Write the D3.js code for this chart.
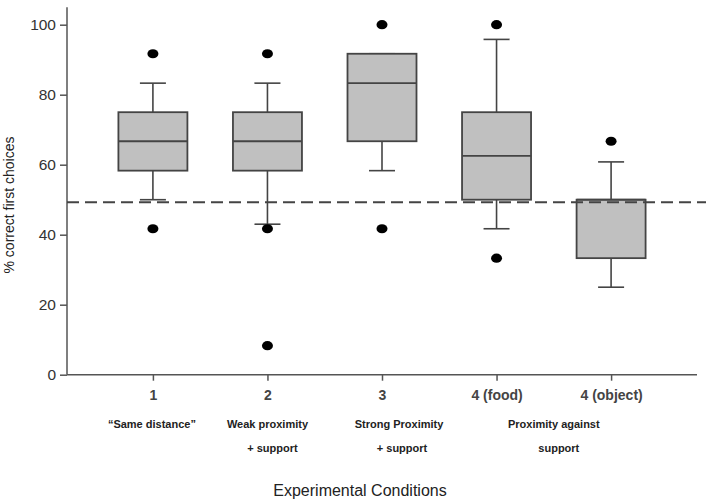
<!DOCTYPE html>
<html><head><meta charset="utf-8">
<script src="https://cdn.jsdelivr.net/npm/d3@7"></script>
<style>body{margin:0;background:#fff}svg{display:block}text{font-family:Arial,"Liberation Sans",sans-serif}</style>
</head><body>
<script>
const categories = ["1","2","3","4 (food)","4 (object)"];
const subLabels = [["\u201cSame distance\u201d"],["Weak proximity","+ support"],["Strong Proximity","+ support"],[],[]];
const groupLabels = [{text:["Proximity against","support"], from:3, to:4}];
const q1 = [58.3, 58.3, 66.7, 50, 33.3];
const median = [66.7, 66.7, 83.3, 62.5, 50];
const q3 = [75, 75, 91.7, 75, 50];
const whiskerLow = [50, 43, 58.3, 41.7, 25];
const whiskerHigh = [83.3, 83.3, 91.7, 95.8, 60.8];
const outliers = [[91.7, 41.7],[91.7, 41.7, 8.3],[100, 41.7],[100, 33.3],[66.7]];
const chanceLevel = 49.3;
const yTicks = [0,20,40,60,80,100];

const W=708,H=503;
const svg=d3.select("body").append("svg").attr("width",W).attr("height",H);
const x=d3.scalePoint().domain(categories).range([67,697]).padding(0.75);
const y=d3.scaleLinear().domain([0,105]).range([374.7,7.2]);
const axisColor="#555", boxStroke="#444";

// y axis
const ya=svg.append("g").attr("transform","translate(67,0)")
  .call(d3.axisLeft(y).tickValues(yTicks).tickSize(7).tickPadding(4));
ya.select(".domain").attr("stroke",axisColor).attr("stroke-width",1.5).attr("d",`M0,${y(0)}V${y(105)}`);
ya.selectAll(".tick line").attr("stroke",axisColor).attr("stroke-width",1.5);
ya.selectAll(".tick text").attr("font-size",15.5).attr("fill","#333");

// x axis
const xa=svg.append("g").attr("transform",`translate(0,${y(0)})`)
  .call(d3.axisBottom(x).tickSize(6).tickPadding(9));
xa.select(".domain").attr("stroke",axisColor).attr("stroke-width",1.5).attr("d","M67,0H697");
xa.selectAll(".tick line").attr("stroke",axisColor).attr("stroke-width",1.5);
xa.selectAll(".tick text").attr("font-size",14).attr("font-weight","bold").attr("fill","#444");

const bw=69, cap=26;
const g=svg.append("g");
categories.forEach((c,i)=>{
  const cx=x(c);
  g.append("line").attr("x1",cx).attr("x2",cx).attr("y1",y(q3[i])).attr("y2",y(whiskerHigh[i])).attr("stroke",boxStroke).attr("stroke-width",1.6);
  g.append("line").attr("x1",cx).attr("x2",cx).attr("y1",y(q1[i])).attr("y2",y(whiskerLow[i])).attr("stroke",boxStroke).attr("stroke-width",1.6);
  [whiskerHigh[i],whiskerLow[i]].forEach(v=>{
    g.append("line").attr("x1",cx-cap/2).attr("x2",cx+cap/2).attr("y1",y(v)).attr("y2",y(v)).attr("stroke",boxStroke).attr("stroke-width",1.6);
  });
  g.append("rect").attr("x",cx-bw/2).attr("width",bw).attr("y",y(q3[i])).attr("height",y(q1[i])-y(q3[i]))
    .attr("fill","#c0c0c0").attr("stroke",boxStroke).attr("stroke-width",1.8);
  g.append("line").attr("x1",cx-bw/2).attr("x2",cx+bw/2).attr("y1",y(median[i])).attr("y2",y(median[i])).attr("stroke",boxStroke).attr("stroke-width",1.8);
  outliers[i].forEach(v=>{
    g.append("ellipse").attr("cx",cx).attr("cy",y(v)).attr("rx",5.5).attr("ry",4.6).attr("fill","#000");
  });
});

// chance line
svg.append("line").attr("x1",67).attr("x2",706).attr("y1",y(chanceLevel)).attr("y2",y(chanceLevel))
  .attr("stroke","#444").attr("stroke-width",2).attr("stroke-dasharray","12,6");

// sub labels
const subG=svg.append("g").attr("font-size",11).attr("font-weight","bold").attr("fill","#222").attr("text-anchor","middle");
categories.forEach((c,i)=>{
  subLabels[i].forEach((t,j)=>{
    const dx = j===0 ? (i===0?-1:(i===2?17:0)) : (i===2?20:5);
    subG.append("text").attr("x",x(c)+dx).attr("y",428+j*24).text(t);
  });
});
groupLabels.forEach(gl=>{
  const cx=(x(categories[gl.from])+x(categories[gl.to]))/2;
  gl.text.forEach((t,j)=>{
    subG.append("text").attr("x",cx+(j===0?0:5)).attr("y",428+j*24).text(t);
  });
});

// titles
svg.append("text").attr("x",360).attr("y",496).attr("text-anchor","middle").attr("font-size",16).attr("fill","#222").text("Experimental Conditions");
svg.append("text").attr("transform","translate(14,205) rotate(-90)").attr("text-anchor","middle").attr("font-size",14).attr("fill","#222").text("% correct first choices");
</script>
</body></html>
